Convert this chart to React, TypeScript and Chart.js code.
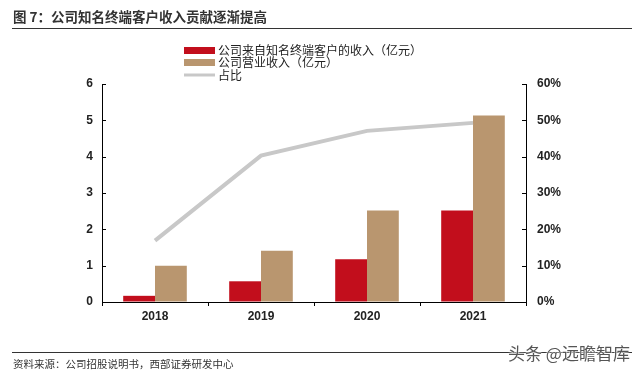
import React, { useEffect, useRef } from "react";
import { Chart, registerables } from "chart.js";

Chart.register(...registerables);

const categories = ["2018", "2019", "2020", "2021"];
const keyClientRevenue = [0.17, 0.57, 1.18, 2.52];
const totalRevenue = [1.0, 1.41, 2.52, 5.13];
const shareRatio = [0.169, 0.403, 0.471, 0.493];
const leftTicks = [0, 1, 2, 3, 4, 5, 6];
const rightTicks = [0, 0.1, 0.2, 0.3, 0.4, 0.5, 0.6];
const seriesNames = ["公司来自知名终端客户的收入（亿元）", "公司营业收入（亿元）", "占比"];

const RED = "#C20E1C";
const BROWN = "#B9966F";
const GRAY = "#C8C8C8";
const CJK = '"Noto Sans CJK SC", "Noto Sans", sans-serif';

const innerTicks = {
  id: "innerTicks",
  afterDatasetsDraw(chart: any) {
    const ctx = chart.ctx;
    const area = chart.chartArea;
    ctx.save();
    ctx.strokeStyle = "#000";
    ctx.lineWidth = 1;
    const y = chart.scales.y;
    leftTicks.forEach((v) => {
      const py = Math.round(y.getPixelForValue(v)) + 0.5;
      ctx.beginPath();
      ctx.moveTo(area.left, py);
      ctx.lineTo(area.left + 4, py);
      ctx.stroke();
    });
    const y1 = chart.scales.y1;
    rightTicks.forEach((v) => {
      const py = Math.round(y1.getPixelForValue(v)) + 0.5;
      ctx.beginPath();
      ctx.moveTo(area.right, py);
      ctx.lineTo(area.right - 4, py);
      ctx.stroke();
    });
    ctx.restore();
  },
};

const customLegend = {
  id: "customLegend",
  afterDraw(chart: any) {
    const ctx = chart.ctx;
    ctx.save();
    const x0 = 184;
    const boxW = 31;
    const rows = [50.5, 62.5, 75];
    chart.data.datasets.forEach((ds: any, i: number) => {
      const cy = rows[i];
      if (ds.type === "line") {
        ctx.strokeStyle = ds.borderColor;
        ctx.lineWidth = 3;
        ctx.beginPath();
        ctx.moveTo(x0, cy);
        ctx.lineTo(x0 + boxW, cy);
        ctx.stroke();
      } else {
        ctx.fillStyle = ds.backgroundColor;
        ctx.fillRect(x0, cy - 3.5, boxW, 7);
      }
      ctx.fillStyle = "#222";
      ctx.font = `12px ${CJK}`;
      ctx.textBaseline = "middle";
      ctx.textAlign = "left";
      ctx.fillText(ds.label, x0 + boxW + 3, cy);
    });
    ctx.restore();
  },
};

export default function App() {
  const ref = useRef<HTMLCanvasElement>(null);
  useEffect(() => {
    if (!ref.current) return;
    const tickFont = { family: '"Liberation Sans", Arial, sans-serif', size: 12, weight: "bold" as const };
    const chart = new Chart(ref.current, {
      type: "bar",
      data: {
        labels: categories,
        datasets: [
          {
            type: "bar",
            label: seriesNames[0],
            data: keyClientRevenue,
            backgroundColor: RED,
            yAxisID: "y",
            order: 1,
            categoryPercentage: 0.6,
            barPercentage: 1.0,
          },
          {
            type: "bar",
            label: seriesNames[1],
            data: totalRevenue,
            backgroundColor: BROWN,
            yAxisID: "y",
            order: 1,
            categoryPercentage: 0.6,
            barPercentage: 1.0,
          },
          {
            type: "line",
            label: seriesNames[2],
            data: shareRatio,
            borderColor: GRAY,
            backgroundColor: GRAY,
            borderWidth: 4,
            pointRadius: 0,
            yAxisID: "y1",
            order: 0,
            tension: 0,
          } as any,
        ],
      },
      options: {
        responsive: false,
        animation: false,
        layout: { padding: { top: 84, left: 0, right: 0, bottom: 0 } },
        plugins: { legend: { display: false }, tooltip: { enabled: false } },
        scales: {
          x: {
            offset: true,
            grid: { display: true, drawOnChartArea: false, drawTicks: true, tickLength: 4, color: "#000", offset: true },
            border: { display: true, color: "#000", width: 1 },
            ticks: { font: tickFont, color: "#222", padding: 3 },
            afterFit(scale: any) {
              scale.height = 73;
            },
          },
          y: {
            position: "left",
            min: 0,
            max: 6,
            ticks: { stepSize: 1, font: tickFont, color: "#222", padding: 9 },
            grid: { drawOnChartArea: false, drawTicks: false },
            border: { display: true, color: "#000", width: 1 },
            afterFit(scale: any) {
              scale.width = 102;
            },
          },
          y1: {
            position: "right",
            min: 0,
            max: 0.6,
            ticks: {
              stepSize: 0.1,
              font: tickFont,
              color: "#222",
              padding: 11,
              callback: (v: any) => `${Math.round(Number(v) * 100)}%`,
            },
            grid: { drawOnChartArea: false, drawTicks: false },
            border: { display: true, color: "#000", width: 1 },
            afterFit(scale: any) {
              scale.width = 114;
            },
          },
        },
      },
      plugins: [innerTicks, customLegend],
    });
    return () => chart.destroy();
  }, []);

  return (
    <div style={{ position: "absolute", left: 0, top: 0, width: 640, height: 375, background: "#fff", overflow: "hidden" }}>
      <canvas ref={ref} width={640} height={375} style={{ position: "absolute", left: 0, top: 0 }} />
      <div
        style={{
          position: "absolute",
          left: 13,
          top: 7,
          fontFamily: CJK,
          fontSize: 13.5,
          lineHeight: "18px",
          fontWeight: "bold",
          color: "#333",
          whiteSpace: "nowrap",
        }}
      >
        图 7：公司知名终端客户收入贡献逐渐提高
      </div>
      <div style={{ position: "absolute", left: 12, top: 28, width: 620, height: 0, borderTop: "1.5px solid #333" }} />
      <div style={{ position: "absolute", left: 12, top: 352, width: 620, height: 0, borderTop: "1px solid #333" }} />
      <div
        style={{
          position: "absolute",
          left: 13,
          top: 357,
          fontFamily: CJK,
          fontSize: 10.5,
          lineHeight: "14px",
          color: "#333",
          whiteSpace: "nowrap",
        }}
      >
        资料来源：公司招股说明书，西部证券研发中心
      </div>
      <div
        style={{
          position: "absolute",
          left: 508,
          top: 344,
          fontFamily: CJK,
          fontSize: 17,
          lineHeight: "18px",
          color: "#555",
          whiteSpace: "nowrap",
          textShadow: "0 0 2px #fff, 0 0 2px #fff, 0 0 1px #fff",
        }}
      >
        头条 @远瞻智库
      </div>
    </div>
  );
}
